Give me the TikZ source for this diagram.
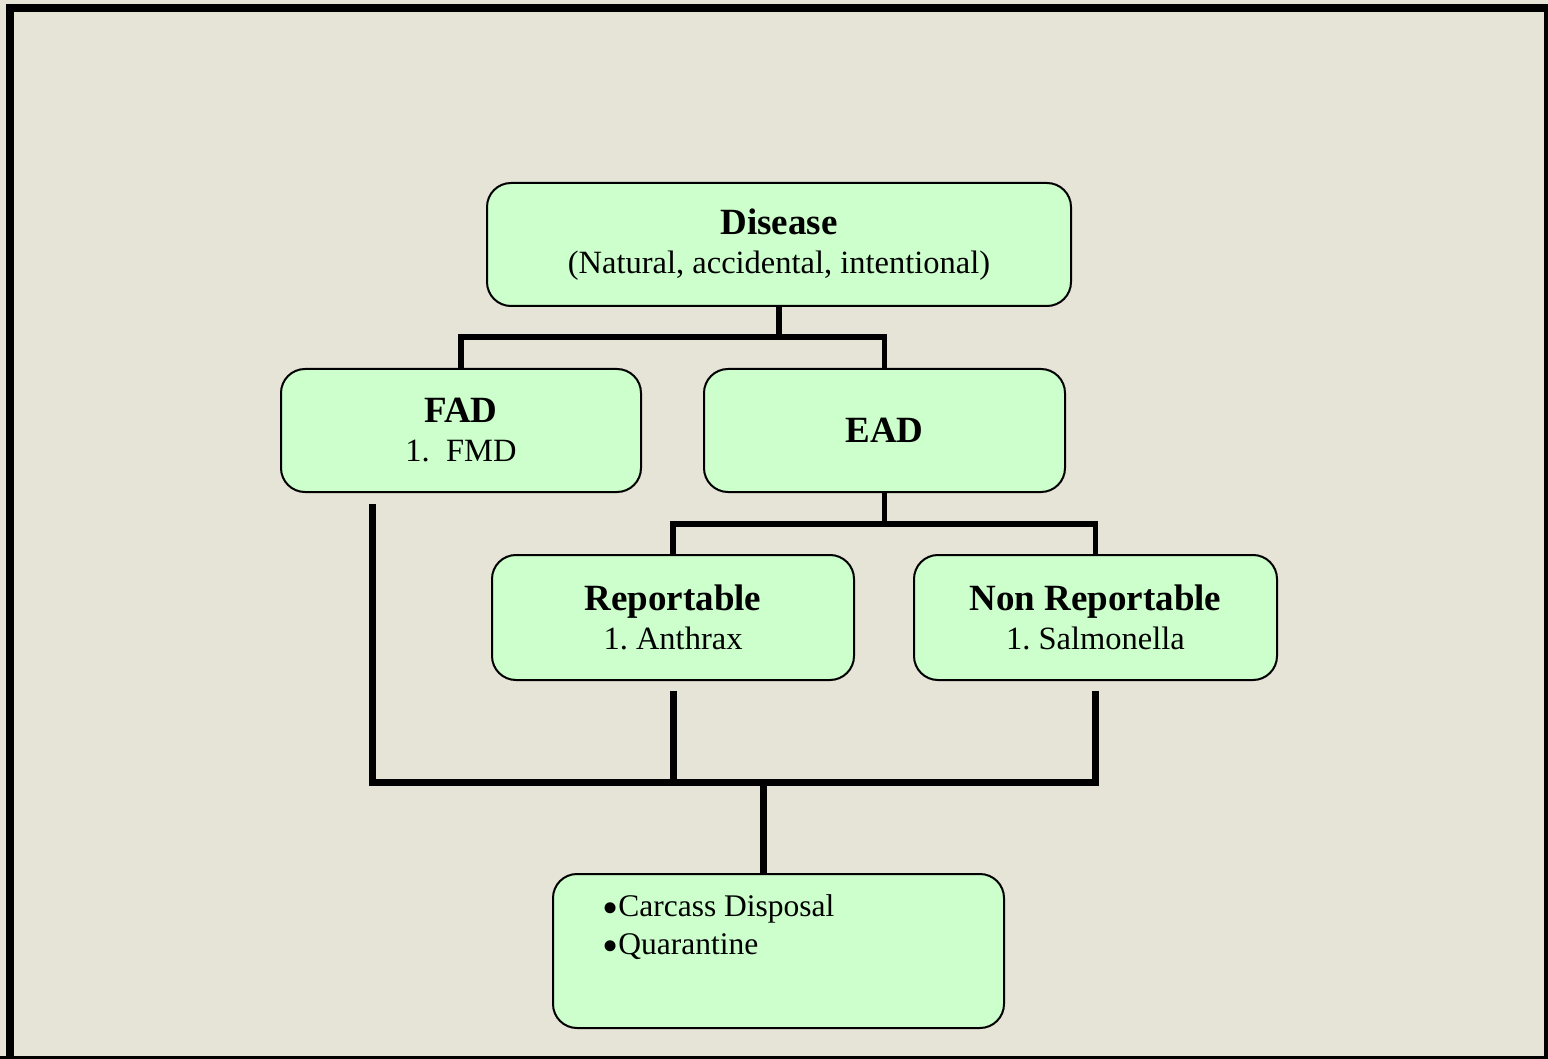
\documentclass[tikz,border=0pt]{standalone}
\usepackage{fontspec}
\setmainfont{Liberation Serif}
\usepackage{xcolor}
\usepackage{tikz}
\usetikzlibrary{positioning}

\definecolor{paper}{HTML}{E6E4D7}
\definecolor{boxgreen}{HTML}{CCFFCC}
\definecolor{shade}{HTML}{A09C8C}
\newcommand\boxtitle[1]{{\fontsize{37}{39}\selectfont\bfseries #1}}
\newcommand\dotmark{\raisebox{-7pt}[0pt][0pt]{\fontsize{46}{38}\selectfont•}}

\begin{document}
\begin{tikzpicture} [x = 1pt, y = -1pt, on grid,
        panel/.style = {draw, line width = 2pt, rounded corners = 24pt, fill = boxgreen,
          align = center, inner sep = 0pt, font = \fontsize{32.5}{39}\selectfont},
        link/.style = {line width = 5.5pt},
        bus/.style = {line width = 7pt}]

        \fill [paper] (0,0) rectangle (1548,1059);
        \useasboundingbox (0,0) rectangle (1548,1059);
        \draw [shade, line width = 3pt] (0,1057.5) -- (1548,1057.5);
        \draw [line width = 8pt] (10,1059) -- (10,8) -- (1548,8) -- (1548,1059);

        \node (dis) [panel, minimum width = 584pt, minimum height = 123pt] at (779,244.5)
        {\boxtitle{Disease}\\(Natural, accidental, intentional)};
        \node (fad) [panel, minimum width = 360pt, minimum height = 123pt, below left = 186pt
        and 318pt of dis] {\boxtitle{FAD}\\1.\ \ FMD}; \node (ead) [panel, minimum width =
        361pt, minimum height = 123pt, right = 423.5pt of fad] {\boxtitle{EAD}};
        \node (rep) [panel, minimum width = 362pt, minimum height = 125pt, below left = 187pt
        and 211.5pt of ead] {\boxtitle{Reportable}\\1.\ Anthrax}; \node (non) [panel, minimum
        width = 363pt, minimum height = 125pt, right = 422.5pt of rep] {\boxtitle{Non
        Reportable}\\1.\ Salmonella};
        \node (act) [panel, minimum width = 451pt, minimum height = 154pt, below right =
        333.5pt and 105.5pt of rep] {};
        \node (acttext) [anchor = north west, align = left, inner sep = 0pt, font =
        \fontsize{31.5}{38}\selectfont] at ([xshift = 50pt, yshift = -21pt] act.north west)
        {\dotmark Carcass Disposal\\\dotmark Quarantine};

        \coordinate (hub) at (763,782);

        \draw [link]
         (dis.south) -- ++(0,30) -| (fad.north) (dis.south) -- ++(0,30) -| (ead.north)
         (ead.south) -- ++(0,31) -| (rep.north) (ead.south) -- ++(0,31) -| (non.north);
        \draw [bus]
         ([xshift = -89pt, yshift = -11pt] fad.south) |- (hub)
         ([yshift = -10pt] rep.south) -- (rep.south |- hub)
         ([yshift = -10pt] non.south) |- (hub) (hub) -- (hub |- act.north);

    \end{tikzpicture}
\end{document}
